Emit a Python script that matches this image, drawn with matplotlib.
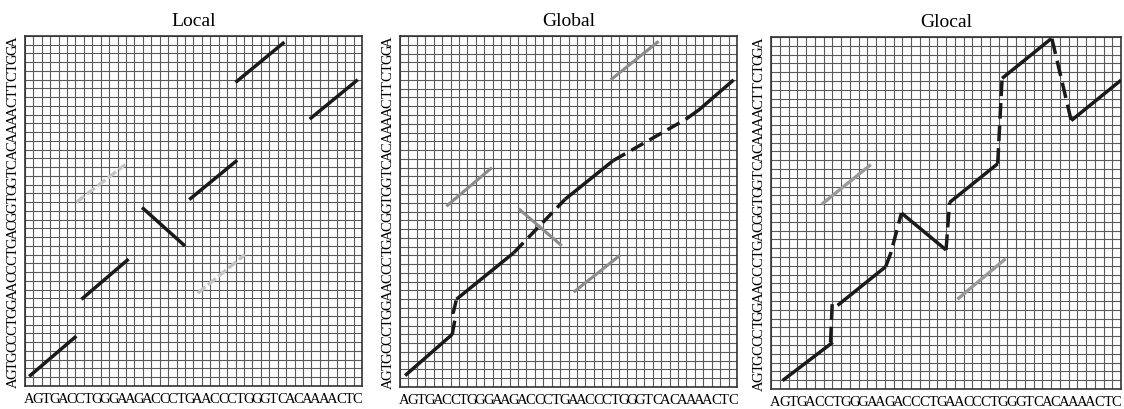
import matplotlib.pyplot as plt
import numpy as np

# sequences on the axes
seq_x = "AGTGACCTGGGAAGACCCTGAACCCTGGGTCACAAAACTC"
seq_y = "AGTGCCCTGGAACCCTGACGGTGGTCACAAAACTTCTGGA"

# segments in cell coordinates (x, y)
local_black = [
    [(0.5, 1.1), (6.1, 5.7)],
    [(6.7, 9.9), (12.3, 14.5)],
    [(13.9, 20.4), (19.0, 16.0)],
    [(19.5, 21.3), (25.2, 25.8)],
    [(25.0, 34.7), (30.8, 39.3)],
    [(33.8, 30.5), (39.5, 35.0)],
]
local_gray = [
    [(6.1, 21.0), (11.9, 25.3)],
    [(20.5, 10.6), (26.1, 15.0)],
]

global_solid = [
    [(0.6, 1.3), (6.2, 6.0)],
    [(6.7, 10.0), (13.5, 15.3)],
    [(19.6, 21.4), (25.3, 25.8)],
    [(33.9, 30.5), (35.5, 31.6), (39.6, 35.0)],
]
global_dashed = [
    [(6.2, 6.0), (6.5, 7.6), (6.3, 8.4), (6.7, 10.0)],
    [(13.5, 15.3), (19.6, 21.4)],
    [(25.3, 25.8), (33.9, 30.5)],
]
global_gray = [
    [(5.5, 20.6), (10.9, 25.0)],
    [(25.0, 35.0), (30.7, 39.4)],
    [(14.1, 20.3), (19.2, 16.1)],
    [(20.6, 10.8), (26.1, 15.0)],
]

glocal_solid = [
    [(1.3, 0.95), (7.05, 5.3)],
    [(7.6, 9.5), (13.1, 13.9)],
    [(14.9, 20.0), (20.0, 15.8)],
    [(20.4, 21.2), (25.9, 25.6)],
    [(26.4, 35.3), (32.0, 39.8)],
    [(34.3, 30.5), (40.0, 35.1)],
]
glocal_dashed = [
    [(6.8, 5.3), (7.0, 10.0)],
    [(13.1, 13.9), (13.7, 15.5), (14.9, 20.0)],
    [(20.0, 15.8), (20.4, 21.2)],
    [(25.9, 25.6), (26.4, 35.3)],
    [(32.1, 39.8), (34.3, 30.5)],
]
glocal_gray = [
    [(5.8, 21.0), (11.4, 25.5)],
    [(21.3, 10.2), (26.8, 14.8)],
]

titles = ["Local", "Global", "Glocal"]

plt.rcParams['font.family'] = ['Liberation Serif', 'DejaVu Serif']

fig = plt.figure(figsize=(11.24, 4.10), dpi=100)
rects = [
    [0.0222, 0.0561, 0.2998, 0.8537],
    [0.3559, 0.0537, 0.2998, 0.8560],
    [0.6860, 0.0488, 0.3114, 0.8585],
]


def draw_grid(ax):
    n = len(seq_x)
    for i in range(n + 1):
        ax.axvline(i, color='#5a5a5a', lw=0.8, zorder=1)
    for j in range(len(seq_y) + 1):
        ax.axhline(j, color='#5a5a5a', lw=0.8, zorder=1)
    ax.set_xlim(0, n)
    ax.set_ylim(0, len(seq_y))
    ax.set_xticks(np.arange(n) + 0.5)
    ax.set_xticklabels(list(seq_x), fontsize=10.5)
    ax.set_yticks(np.arange(len(seq_y)) + 0.5)
    ax.set_yticklabels(list(seq_y), fontsize=10.5, rotation=90, va='center')
    ax.tick_params(length=0, pad=4)
    for s in ax.spines.values():
        s.set_color('#333333')
        s.set_linewidth(1.2)


def draw_segs(ax, segs, **kw):
    for seg in segs:
        xs, ys = zip(*seg)
        ax.plot(xs, ys, solid_capstyle='butt', zorder=3, **kw)


axes = [fig.add_axes(r) for r in rects]
for ax, t in zip(axes, titles):
    draw_grid(ax)
    ax.set_title(t, fontsize=14, pad=8)

draw_segs(axes[0], local_black, color='#1a1a1a', lw=2.5)
draw_segs(axes[0], local_gray, color='#c4c4c4', lw=2.4, ls=(0, (3, 1)))

draw_segs(axes[1], global_gray, color='#8c8c8c', lw=2.2)
draw_segs(axes[1], global_solid, color='#1a1a1a', lw=2.5)
draw_segs(axes[1], global_dashed, color='#1a1a1a', lw=2.5, ls=(0, (4, 2)))

draw_segs(axes[2], glocal_gray, color='#9a9a9a', lw=2.4)
draw_segs(axes[2], glocal_solid, color='#1a1a1a', lw=2.5)
draw_segs(axes[2], glocal_dashed, color='#1a1a1a', lw=2.5, ls=(0, (4.5, 2)))

plt.savefig('out.png', dpi=100)
